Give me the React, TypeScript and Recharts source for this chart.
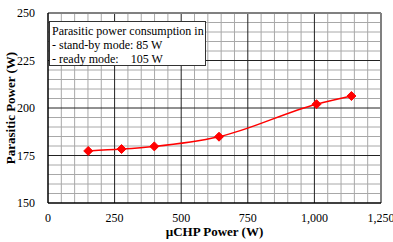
import React from "react";
import {
  LineChart, Line, XAxis, YAxis, ReferenceLine, Label,
} from "recharts";

const chpPower = [151, 276, 399, 642, 1008, 1139];
const parasiticPower = [177.4, 178.4, 179.8, 184.9, 202, 206.3];

const xTicks = [0, 250, 500, 750, 1000, 1250];
const yTicks = [150, 175, 200, 225, 250];
const xMinor = [50, 100, 150, 200, 300, 350, 400, 450, 550, 600, 650, 700, 800, 850, 900, 950, 1050, 1100, 1150, 1200];
const yMinor = [155, 160, 165, 170, 180, 185, 190, 195, 205, 210, 215, 220, 230, 235, 240, 245];
const xMajor = [250, 500, 750, 1000];
const yMajor = [175, 200, 225];

const legendLines = [
  "Parasitic power consumption in",
  "- stand-by mode: 85 W",
  "- ready mode:\u00a0\u00a0\u00a0\u00a0105 W",
];

const data = chpPower.map((x, i) => ({ x, y: parasiticPower[i] }));

const font = "'Liberation Serif', 'Times New Roman', serif";

function Diamond(props: any) {
  const { cx, cy } = props;
  if (cx == null || cy == null) return null;
  const r = 4.5;
  return (
    <polygon
      points={`${cx},${cy - r} ${cx + r},${cy} ${cx},${cy + r} ${cx - r},${cy}`}
      fill="#ff0000"
      stroke="#ff0000"
    />
  );
}

export default function App() {
  const tick = { fill: "#000", fontSize: 12, fontFamily: font };
  return (
    <div style={{ position: "fixed", left: 0, top: 0, width: 393, height: 242, background: "#fff" }}>
      <LineChart width={393} height={242} data={data} margin={{ top: 13, right: 12, bottom: 0, left: 0 }}>
        {xMinor.map((v) => (
          <ReferenceLine key={"xm" + v} x={v} stroke="#a8a8a8" strokeWidth={1} />
        ))}
        {yMinor.map((v) => (
          <ReferenceLine key={"ym" + v} y={v} stroke="#a8a8a8" strokeWidth={1} />
        ))}
        {xMajor.map((v) => (
          <ReferenceLine key={"xM" + v} x={v} stroke="#222" strokeWidth={1} />
        ))}
        {yMajor.map((v) => (
          <ReferenceLine key={"yM" + v} y={v} stroke="#222" strokeWidth={1} />
        ))}
        <ReferenceLine y={250} stroke="#808080" strokeWidth={2} />
        <ReferenceLine x={1250} stroke="#808080" strokeWidth={2} />
        <XAxis
          dataKey="x"
          type="number"
          domain={[0, 1250]}
          ticks={xTicks}
          tickFormatter={(v: number) => v.toLocaleString("en-US")}
          tick={tick}
          tickLine={false}
          axisLine={{ stroke: "#000", strokeWidth: 1.5 }}
          tickMargin={4}
          height={39}
          interval={0}
        >
          <Label
            value="µCHP Power (W)"
            position="insideBottom"
            offset={6}
            style={{ fontFamily: font, fontWeight: "bold", fontSize: 13, fill: "#000" }}
          />
        </XAxis>
        <YAxis
          type="number"
          domain={[150, 250]}
          ticks={yTicks}
          tick={tick}
          tickLine={false}
          axisLine={{ stroke: "#000", strokeWidth: 1.5 }}
          width={48}
          tickMargin={7}
          interval={0}
        >
          <Label
            value="Parasitic Power (W)"
            angle={-90}
            position="insideLeft"
            offset={10}
            style={{ fontFamily: font, fontWeight: "bold", fontSize: 13, fill: "#000", textAnchor: "middle" }}
          />
        </YAxis>
        <Line
          type="monotone"
          dataKey="y"
          stroke="#ff0000"
          strokeWidth={1.5}
          dot={<Diamond />}
          activeDot={false}
          isAnimationActive={false}
        />
      </LineChart>
      <div
        style={{
          position: "absolute",
          left: 49,
          top: 21,
          width: 157,
          height: 45,
          border: "1px solid #333",
          background: "#fff",
          fontFamily: font,
          fontSize: 12,
          lineHeight: "14px",
          padding: "2px 0 0 2px",
          boxSizing: "border-box",
          whiteSpace: "nowrap",
          color: "#000",
        }}
      >
        {legendLines.map((l) => (
          <div key={l}>{l}</div>
        ))}
      </div>
    </div>
  );
}
